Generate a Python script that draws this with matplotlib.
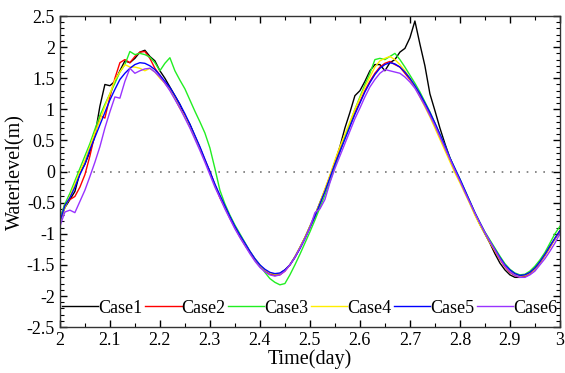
import numpy as np
import matplotlib
matplotlib.use("Agg")
import matplotlib.pyplot as plt
from matplotlib.ticker import MultipleLocator

plt.rcParams['font.family'] = ['Liberation Serif', 'DejaVu Serif']

# time axis (day), sampled every 0.01 day
time = np.round(np.arange(2.0, 3.0001, 0.01), 2)

case1 = [-0.80, -0.58, -0.45, -0.32, -0.02, 0.12, 0.32, 0.58, 1.05, 1.40,
         1.38, 1.45, 1.62, 1.78, 1.75, 1.82, 1.92, 1.95, 1.85, 1.78,
         1.62, 1.50, 1.36, 1.22, 1.08, 0.90, 0.76, 0.57, 0.38, 0.18,
         0.00, -0.22, -0.40, -0.56, -0.74, -0.90, -1.03, -1.17, -1.30, -1.42,
         -1.52, -1.60, -1.65, -1.66, -1.64, -1.58, -1.50, -1.37, -1.22, -1.06,
         -0.88, -0.70, -0.50, -0.30, -0.08, 0.15, 0.40, 0.70, 0.95, 1.22,
         1.30, 1.45, 1.62, 1.72, 1.72, 1.62, 1.75, 1.80, 1.92, 1.98,
         2.15, 2.42, 2.05, 1.70, 1.25, 0.98, 0.70, 0.45, 0.22, 0.03,
         -0.15, -0.32, -0.50, -0.68, -0.85, -1.00, -1.15, -1.32, -1.47, -1.58,
         -1.66, -1.70, -1.70, -1.68, -1.63, -1.55, -1.45, -1.33, -1.20, -1.08,
         -0.95]

case2 = [-0.78, -0.52, -0.45, -0.40, -0.25, -0.05, 0.25, 0.60, 0.90, 0.86,
         1.20, 1.50, 1.75, 1.80, 1.75, 1.85, 1.92, 1.93, 1.82, 1.66,
         1.55, 1.42, 1.32, 1.18, 1.02, 0.90, 0.72, 0.55, 0.38, 0.18,
         -0.02, -0.22, -0.42, -0.58, -0.75, -0.90, -1.05, -1.18, -1.30, -1.42,
         -1.52, -1.60, -1.65, -1.67, -1.66, -1.60, -1.50, -1.38, -1.23, -1.07,
         -0.90, -0.72, -0.52, -0.30, -0.08, 0.14, 0.35, 0.55, 0.75, 0.95,
         1.12, 1.30, 1.45, 1.58, 1.68, 1.74, 1.77, 1.72, 1.68, 1.58,
         1.48, 1.36, 1.22, 1.06, 0.92, 0.74, 0.56, 0.38, 0.20, 0.02,
         -0.15, -0.32, -0.50, -0.68, -0.84, -0.99, -1.14, -1.28, -1.41, -1.53,
         -1.62, -1.67, -1.70, -1.69, -1.64, -1.57, -1.47, -1.35, -1.22, -1.08,
         -0.96]

case3 = [-0.75, -0.52, -0.35, -0.15, 0.05, 0.25, 0.45, 0.68, 0.90, 1.08,
         1.25, 1.42, 1.60, 1.72, 1.93, 1.88, 1.90, 1.88, 1.84, 1.75,
         1.62, 1.74, 1.83, 1.62, 1.47, 1.33, 1.15, 0.97, 0.80, 0.62,
         0.38, 0.05, -0.30, -0.52, -0.70, -0.86, -1.00, -1.14, -1.28, -1.40,
         -1.50, -1.62, -1.72, -1.78, -1.82, -1.80, -1.66, -1.50, -1.33, -1.15,
         -0.97, -0.78, -0.58, -0.38, -0.16, 0.08, 0.32, 0.55, 0.78, 1.00,
         1.20, 1.40, 1.58, 1.80, 1.82, 1.80, 1.85, 1.90, 1.80, 1.68,
         1.55, 1.42, 1.28, 1.12, 0.96, 0.78, 0.60, 0.42, 0.22, 0.05,
         -0.12, -0.30, -0.48, -0.66, -0.82, -0.97, -1.10, -1.23, -1.36, -1.48,
         -1.57, -1.63, -1.66, -1.65, -1.60, -1.52, -1.42, -1.30, -1.15, -1.00,
         -0.88]

case4 = [-0.80, -0.58, -0.40, -0.20, 0.00, 0.18, 0.40, 0.62, 0.82, 1.05,
         1.25, 1.47, 1.60, 1.72, 1.68, 1.68, 1.66, 1.62, 1.66, 1.60,
         1.50, 1.42, 1.32, 1.18, 1.02, 0.88, 0.72, 0.56, 0.38, 0.18,
         -0.02, -0.22, -0.40, -0.57, -0.74, -0.90, -1.04, -1.17, -1.29, -1.41,
         -1.51, -1.58, -1.63, -1.65, -1.64, -1.59, -1.50, -1.37, -1.22, -1.06,
         -0.88, -0.70, -0.50, -0.28, -0.06, 0.18, 0.40, 0.60, 0.80, 1.00,
         1.18, 1.36, 1.52, 1.68, 1.78, 1.82, 1.85, 1.80, 1.72, 1.62,
         1.50, 1.36, 1.20, 1.04, 0.88, 0.70, 0.52, 0.34, 0.16, -0.02,
         -0.18, -0.35, -0.52, -0.70, -0.86, -1.00, -1.14, -1.27, -1.40, -1.51,
         -1.60, -1.65, -1.68, -1.67, -1.63, -1.56, -1.46, -1.34, -1.21, -1.08,
         -0.95]

case5 = [-0.80, -0.55, -0.42, -0.25, -0.05, 0.12, 0.35, 0.55, 0.75, 0.95,
         1.15, 1.32, 1.48, 1.58, 1.66, 1.72, 1.75, 1.74, 1.70, 1.64,
         1.55, 1.45, 1.35, 1.22, 1.08, 0.93, 0.76, 0.58, 0.40, 0.20,
         0.00, -0.20, -0.38, -0.55, -0.72, -0.88, -1.02, -1.15, -1.28, -1.40,
         -1.50, -1.57, -1.62, -1.64, -1.63, -1.58, -1.50, -1.38, -1.24, -1.08,
         -0.90, -0.72, -0.52, -0.32, -0.10, 0.12, 0.32, 0.52, 0.72, 0.92,
         1.10, 1.28, 1.43, 1.56, 1.66, 1.72, 1.75, 1.73, 1.68, 1.60,
         1.50, 1.38, 1.25, 1.10, 0.95, 0.78, 0.60, 0.42, 0.22, 0.05,
         -0.12, -0.30, -0.48, -0.66, -0.82, -0.98, -1.12, -1.25, -1.38, -1.50,
         -1.58, -1.64, -1.67, -1.66, -1.62, -1.55, -1.45, -1.33, -1.20, -1.07,
         -0.95]

case6 = [-0.88, -0.65, -0.62, -0.66, -0.48, -0.30, -0.08, 0.15, 0.40, 0.70,
         0.96, 1.20, 1.18, 1.45, 1.66, 1.58, 1.62, 1.65, 1.66, 1.60,
         1.52, 1.42, 1.30, 1.16, 1.02, 0.86, 0.70, 0.52, 0.34, 0.15,
         -0.05, -0.25, -0.42, -0.60, -0.76, -0.92, -1.06, -1.19, -1.32, -1.44,
         -1.54, -1.61, -1.66, -1.68, -1.66, -1.60, -1.50, -1.38, -1.23, -1.08,
         -0.90, -0.66, -0.60, -0.45, -0.18, 0.05, 0.25, 0.45, 0.65, 0.85,
         1.02, 1.20, 1.36, 1.48, 1.58, 1.64, 1.62, 1.60, 1.58, 1.52,
         1.44, 1.34, 1.20, 1.06, 0.90, 0.74, 0.56, 0.38, 0.20, 0.02,
         -0.15, -0.33, -0.50, -0.67, -0.83, -0.98, -1.12, -1.26, -1.40, -1.52,
         -1.61, -1.67, -1.70, -1.70, -1.66, -1.60, -1.50, -1.40, -1.28, -1.15,
         -1.00]

labels = ['Case1', 'Case2', 'Case3', 'Case4', 'Case5', 'Case6']
colors = ['#000000', '#ff0000', '#22ee22', '#ffee00', '#0000ff', '#9933ff']

fig = plt.figure(figsize=(5.65, 3.73), dpi=100)
ax = fig.add_axes([0.106, 0.123, 0.885, 0.834])

for y, lab, c in zip([case1, case2, case3, case4, case5, case6], labels, colors):
    ax.plot(time, y, color=c, lw=1.0, label=lab)

# zero reference line
ax.axhline(0, color='#777777', lw=1.2, ls=(0, (1, 4)), zorder=0)

ax.set_xlim(2, 3)
ax.set_ylim(-2.5, 2.5)
ax.xaxis.set_major_locator(MultipleLocator(0.1))
ax.xaxis.set_minor_locator(MultipleLocator(0.05))
ax.yaxis.set_major_locator(MultipleLocator(0.5))
ax.yaxis.set_minor_locator(MultipleLocator(0.1))
ax.xaxis.set_major_formatter(plt.FuncFormatter(lambda v, p: f'{v:g}'))
ax.yaxis.set_major_formatter(plt.FuncFormatter(lambda v, p: f'{v:g}'))
ax.tick_params(which='both', direction='in', top=True, right=True, labelsize=13)
ax.tick_params(which='major', length=5, width=1)
ax.tick_params(which='minor', length=3, width=0.8)
for s in ax.spines.values():
    s.set_linewidth(1.0)
    s.set_color('#333333')

ax.set_xlabel('Time(day)', fontsize=14.5, labelpad=0)
ax.set_ylabel('Waterlevel(m)', fontsize=14.5, labelpad=1)

ax.legend(loc='lower center', ncol=6, frameon=False, fontsize=13,
          handlelength=2.0, handletextpad=0.0, columnspacing=0.15,
          bbox_to_anchor=(0.5, 0.01), borderaxespad=0)

fig.savefig('out.png', dpi=100)
